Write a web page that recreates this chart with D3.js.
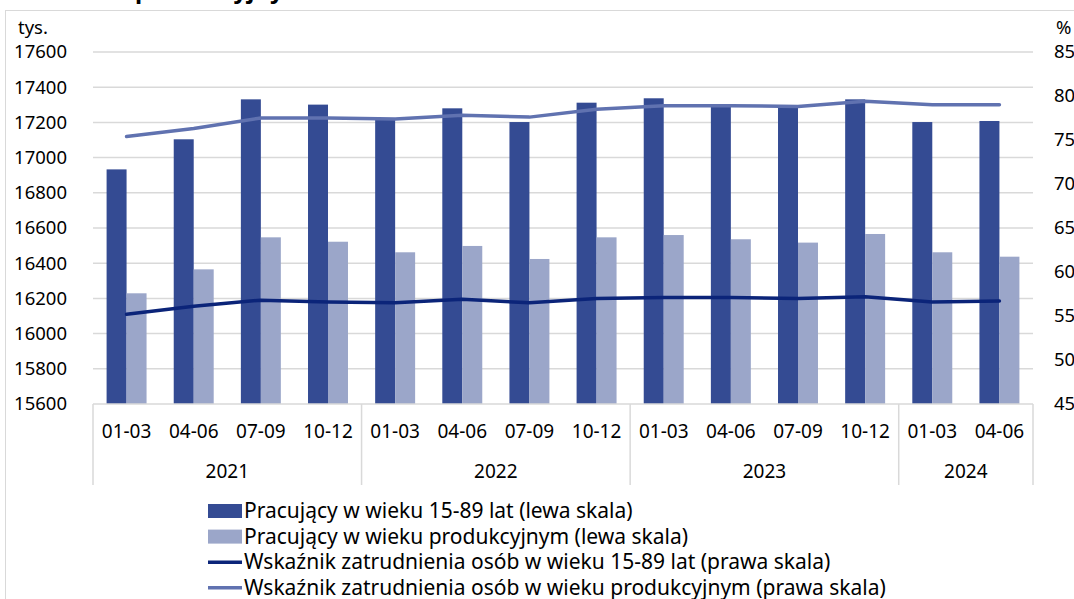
<!DOCTYPE html>
<html>
<head>
<meta charset="utf-8">
<script src="https://cdn.jsdelivr.net/npm/d3@7"></script>
<style>
  body { margin: 0; background: #fff; }
  svg text { font-family: "Noto Sans", sans-serif; fill: #000; }
</style>
</head>
<body>
<svg id="chart" width="1074" height="599"></svg>
<script>
// quarters and years
var quarters = ['01-03', '04-06', '07-09', '10-12', '01-03', '04-06', '07-09', '10-12',
                '01-03', '04-06', '07-09', '10-12', '01-03', '04-06'];
var years = [
    { label: '2021', from: 0, to: 4 },
    { label: '2022', from: 4, to: 8 },
    { label: '2023', from: 8, to: 12 },
    { label: '2024', from: 12, to: 14 }
];
// thousands (left scale)
var workers1589 = [16933, 17104, 17331, 17301, 17214, 17280, 17202, 17312, 17337, 17299, 17289, 17331, 17202, 17208];
var workersProd = [16229, 16365, 16547, 16522, 16462, 16498, 16424, 16547, 16560, 16536, 16517, 16566, 16462, 16437];
// percent (right scale)
var rate1589 = [55.2, 56.1, 56.8, 56.6, 56.5, 56.9, 56.5, 57.0, 57.1, 57.1, 57.0, 57.2, 56.6, 56.7];
var rateProd = [75.4, 76.3, 77.5, 77.5, 77.4, 77.8, 77.6, 78.5, 78.9, 78.9, 78.8, 79.4, 79.0, 79.0];

var leftTicks = d3.range(15600, 17601, 200);
var rightTicks = d3.range(45, 86, 5);

var legendItems = [
    { name: 'Pracujący w wieku 15-89 lat (lewa skala)', type: 'bar', color: '#344b93' },
    { name: 'Pracujący w wieku produkcyjnym (lewa skala)', type: 'bar', color: '#9ba6c9' },
    { name: 'Wskaźnik zatrudnienia osób w wieku 15-89 lat (prawa skala)', type: 'line', color: '#0b2479' },
    { name: 'Wskaźnik zatrudnienia osób w wieku produkcyjnym (prawa skala)', type: 'line', color: '#6072b0' }
];

(function () {
    var svg = d3.select('#chart');
    var pLeft = 93, pRight = 1033, pTop = 52, pBottom = 404;

    // outer frame (cut by the window)
    svg.append('rect')
        .attr('x', 5.5).attr('y', 10.5)
        .attr('width', 1200).attr('height', 800)
        .attr('fill', 'none').attr('stroke', '#d9d9d9');

    // title, mostly above the window
    svg.append('text')
        .attr('x', 135).attr('y', -2)
        .style('font-size', '24px').style('font-weight', 'bold')
        .text('produkcyjnym');

    var x0 = d3.scaleBand().domain(d3.range(quarters.length)).range([pLeft, pRight]).padding(0);
    var x1 = d3.scaleBand().domain(['a', 'b']).range([0, x0.bandwidth()]).paddingInner(0).paddingOuter(0.68);
    var yL = d3.scaleLinear().domain([15600, 17600]).range([pBottom, pTop]);
    var yR = d3.scaleLinear().domain([45, 85]).range([pBottom, pTop]);

    // gridlines
    svg.append('g').selectAll('line')
        .data(leftTicks.slice(1))
        .enter().append('line')
        .attr('x1', pLeft).attr('x2', pRight)
        .attr('y1', function (d) { return yL(d); })
        .attr('y2', function (d) { return yL(d); })
        .attr('stroke', '#d9d9d9').attr('stroke-width', 1.5);

    // left axis
    var axL = svg.append('g').attr('transform', 'translate(67,0)')
        .call(d3.axisLeft(yL).tickValues(leftTicks).tickSize(0).tickPadding(0).tickFormat(d3.format('d')));
    axL.select('.domain').remove();
    axL.selectAll('text').style('font-size', '18.5px').style('font-family', '"Noto Sans", sans-serif');
    svg.append('text').attr('x', 18).attr('y', 34).style('font-size', '18.5px').text('tys.');

    // right axis
    var axR = svg.append('g').attr('transform', 'translate(1054,0)')
        .call(d3.axisRight(yR).tickValues(rightTicks).tickSize(0).tickPadding(0));
    axR.select('.domain').remove();
    axR.selectAll('text').style('font-size', '18.5px').style('font-family', '"Noto Sans", sans-serif');
    svg.append('text').attr('x', 1056).attr('y', 34).style('font-size', '18.5px').text('%');

    // bars
    var groups = svg.append('g').selectAll('g')
        .data(quarters)
        .enter().append('g')
        .attr('transform', function (d, i) { return 'translate(' + x0(i) + ',0)'; });
    groups.append('rect')
        .attr('x', x1('a')).attr('width', x1.bandwidth())
        .attr('y', function (d, i) { return yL(workers1589[i]); })
        .attr('height', function (d, i) { return pBottom - yL(workers1589[i]); })
        .attr('fill', legendItems[0].color);
    groups.append('rect')
        .attr('x', x1('b')).attr('width', x1.bandwidth())
        .attr('y', function (d, i) { return yL(workersProd[i]); })
        .attr('height', function (d, i) { return pBottom - yL(workersProd[i]); })
        .attr('fill', legendItems[1].color);

    // lines
    function drawLine(values, color) {
        var line = d3.line()
            .x(function (d, i) { return x0(i) + x0.bandwidth() / 2; })
            .y(function (d) { return yR(d); });
        svg.append('path')
            .datum(values)
            .attr('d', line)
            .attr('fill', 'none')
            .attr('stroke', color)
            .attr('stroke-width', 3.5)
            .attr('stroke-linecap', 'round')
            .attr('stroke-linejoin', 'round');
    }
    drawLine(rate1589, legendItems[2].color);
    drawLine(rateProd, legendItems[3].color);

    // category axis
    svg.append('line')
        .attr('x1', pLeft).attr('x2', pRight).attr('y1', pBottom).attr('y2', pBottom)
        .attr('stroke', '#d9d9d9').attr('stroke-width', 1.5);
    var seps = [0].concat(years.map(function (y) { return y.to; }));
    svg.append('g').selectAll('line')
        .data(seps)
        .enter().append('line')
        .attr('x1', function (d) { return d < quarters.length ? x0(d) : pRight; })
        .attr('x2', function (d) { return d < quarters.length ? x0(d) : pRight; })
        .attr('y1', pBottom).attr('y2', 485)
        .attr('stroke', '#d9d9d9').attr('stroke-width', 1.5);
    svg.append('g').selectAll('text')
        .data(quarters)
        .enter().append('text')
        .attr('x', function (d, i) { return x0(i) + x0.bandwidth() / 2; })
        .attr('y', 438)
        .attr('text-anchor', 'middle')
        .style('font-size', '19px')
        .text(function (d) { return d; });
    svg.append('g').selectAll('text')
        .data(years)
        .enter().append('text')
        .attr('x', function (d) {
            var end = d.to < quarters.length ? x0(d.to) : pRight;
            return (x0(d.from) + end) / 2;
        })
        .attr('y', 478)
        .attr('text-anchor', 'middle')
        .style('font-size', '19px')
        .text(function (d) { return d.label; });

    // legend
    var leg = svg.append('g').selectAll('g')
        .data(legendItems)
        .enter().append('g')
        .attr('transform', function (d, i) { return 'translate(208,' + (511 + i * 25.6) + ')'; });
    leg.each(function (d) {
        var g = d3.select(this);
        if (d.type === 'bar') {
            g.append('rect').attr('x', 0).attr('y', -7).attr('width', 34).attr('height', 14).attr('fill', d.color);
        } else {
            g.append('line').attr('x1', 0).attr('x2', 34).attr('y1', 0).attr('y2', 0)
                .attr('stroke', d.color).attr('stroke-width', 3.5);
        }
        g.append('text').attr('x', 36).attr('y', 7).style('font-size', '21px').text(d.name);
    });
})();
</script>
</body>
</html>
